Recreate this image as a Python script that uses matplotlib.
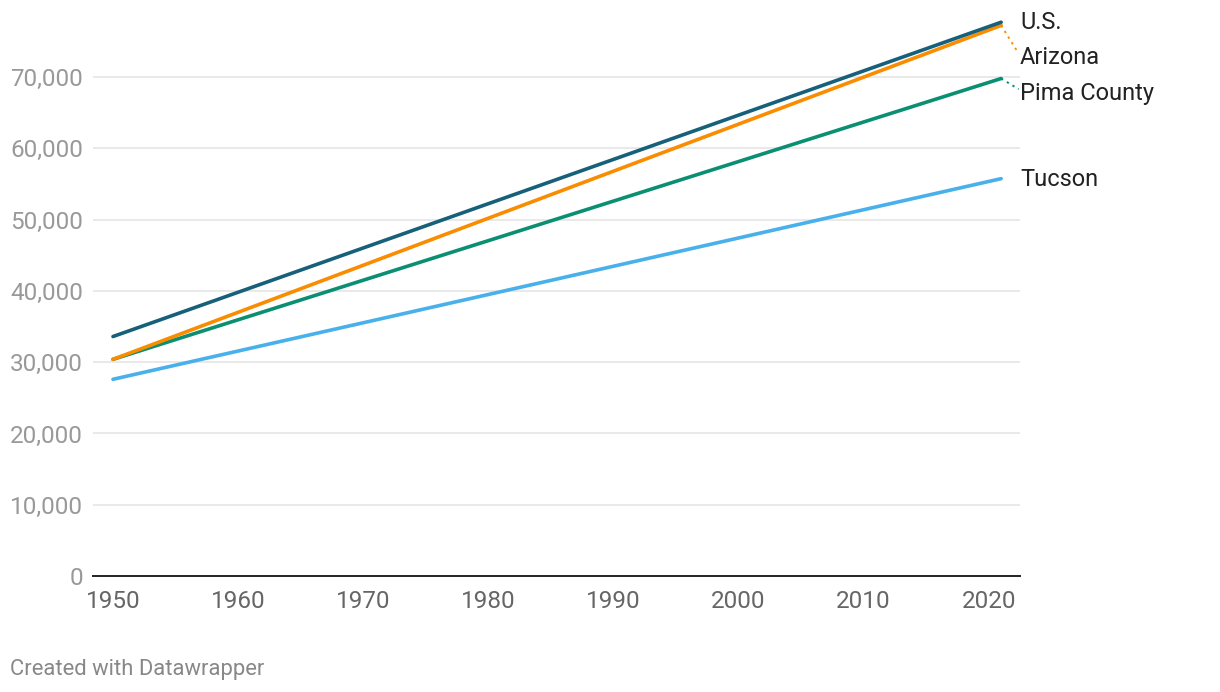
import matplotlib.pyplot as plt
from matplotlib.ticker import FuncFormatter

plt.rcParams["font.family"] = ["Roboto", "DejaVu Sans"]

years = [1950, 2021]
series_names = ["U.S.", "Arizona", "Pima County", "Tucson"]
us_values = [33600, 77700]
arizona_values = [30400, 77250]
pima_values = [30400, 69800]
tucson_values = [27600, 55750]
colors = ["#17607a", "#fa8c00", "#0a8f72", "#48b0ea"]
# where the end labels sit (data y), spread so they do not overlap
label_y = [77700, 72700, 67700, 55700]

y_ticks = [0, 10000, 20000, 30000, 40000, 50000, 60000, 70000]
x_ticks = [1950, 1960, 1970, 1980, 1990, 2000, 2010, 2020]


def main():
    fig = plt.figure(figsize=(12.2, 6.92), dpi=100)
    ax = fig.add_axes([0.0762, 0.1676, 0.7598, 0.8034])

    all_values = [us_values, arizona_values, pima_values, tucson_values]

    for y in y_ticks[1:]:
        ax.axhline(y, color="#e3e3e3", linewidth=1.1, zorder=0)

    # draw Tucson first so U.S. sits on top
    for values, color in reversed(list(zip(all_values, colors))):
        ax.plot(
            years,
            values,
            color=color,
            linewidth=2.6,
            solid_capstyle="round",
            zorder=3
        )

    for name, values, color, ly in zip(series_names, all_values, colors, label_y):
        ax.text(
            2022.5,
            ly,
            name,
            ha="left",
            va="center",
            fontsize=17,
            color="#222222",
            clip_on=False
        )
        if abs(ly - values[-1]) > 1000:
            ax.plot(
                [years[-1], 2022.4],
                [values[-1], ly + 600],
                color=color,
                linewidth=1.4,
                linestyle=(0, (1.2, 2.2)),
                clip_on=False,
                zorder=2
            )

    ax.set_xlim(1948.4, 2022.5)
    ax.set_ylim(0, 78000)

    ax.set_yticks(y_ticks)
    ax.yaxis.set_major_formatter(FuncFormatter(lambda v, p: f"{int(v):,}"))
    ax.set_xticks(x_ticks)

    ax.tick_params(axis="y", length=0, pad=7, labelsize=17.5, labelcolor="#999999")
    ax.tick_params(axis="x", length=0, pad=10, labelsize=17.5, labelcolor="#666666")

    for side in ["top", "right", "left"]:
        ax.spines[side].set_visible(False)
    ax.spines["bottom"].set_color("#222222")
    ax.spines["bottom"].set_linewidth(1.4)
    ax.spines["bottom"].set_zorder(4)

    fig.text(
        0.0082,
        0.032,
        "Created with Datawrapper",
        fontsize=15.8,
        color="#888888",
        ha="left",
        va="center"
    )

    plt.savefig("out.png", dpi=100)
    plt.close()


if __name__ == "__main__":
    main()
